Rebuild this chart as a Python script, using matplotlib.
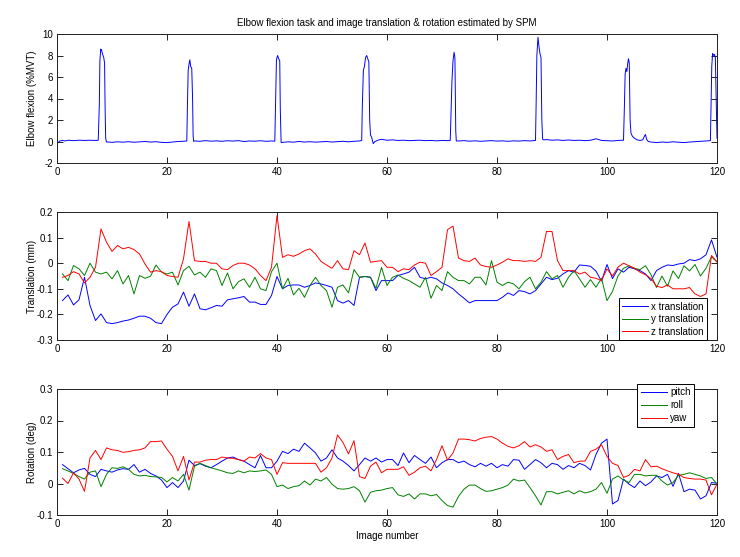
import matplotlib
matplotlib.use("Agg")
import matplotlib.pyplot as plt
from matplotlib.ticker import FuncFormatter

plt.rcParams['font.family'] = ['Liberation Sans', 'DejaVu Sans']
plt.rcParams['axes.unicode_minus'] = False

title = "Elbow flexion task and image translation & rotation estimated by SPM"

# ---- elbow flexion trace (vertices) ----
elbow_x = [0, 0.2, 0.5, 1, 1.5, 2, 3, 4, 5, 6, 7, 7.5,
           7.7, 7.8, 7.95, 8.1, 8.3, 8.5, 8.65, 8.75, 8.85, 9.0,
           9.5, 10, 11, 12, 13, 14, 15, 16, 17, 18, 19, 20, 21, 22, 23, 23.6,
           23.7, 23.85, 24.0, 24.15, 24.3, 24.5, 24.65, 24.75, 24.85,
           25, 26, 27, 28, 29, 30, 31, 32, 33, 34, 35, 36, 37, 38, 39, 39.6,
           39.75, 39.9, 40.1, 40.3, 40.5, 40.6, 40.75,
           41, 42, 43, 44, 45, 46, 47, 48, 49, 50, 51, 52, 53, 54, 55, 55.4,
           55.5, 55.7, 55.9, 56.1, 56.3, 56.5, 56.7, 56.85, 57.0, 57.2, 57.5,
           57.8, 58.5, 59, 60, 61, 62, 63, 64, 65, 66, 67, 68, 69, 70, 71, 71.5,
           71.6, 71.8, 72.0, 72.2, 72.35, 72.5, 72.6,
           73, 74, 75, 76, 77, 78, 79, 80, 81, 82, 83, 84, 85, 86, 87,
           87.1, 87.25, 87.45, 87.6, 87.8, 88.0, 88.15, 88.3,
           88.5, 89, 90, 91, 92, 93, 94, 95, 96, 97, 98, 99, 100, 101, 102, 103,
           103.15, 103.3, 103.45, 103.6, 103.75, 103.9, 104.05, 104.2, 104.35, 104.6,
           105, 105.5, 106, 106.5, 106.8, 107, 107.2, 107.5,
           108, 109, 110, 111, 112, 113, 114, 115, 116, 117, 118, 118.8,
           118.9, 119.05, 119.2, 119.4, 119.55, 119.7, 119.85, 120]
elbow_y = [-0.25, -0.1, 0.05, 0.1, 0.05, 0.12, 0.08, 0.12, 0.1, 0.12, 0.1, 0.12,
           3.5, 7.5, 8.6, 8.5, 8.1, 7.8, 7.3, 3.0, 0.3, -0.05,
           -0.05, -0.08, -0.03, -0.06, -0.02, -0.07, -0.03, 0.0, -0.05, -0.02, -0.08, -0.1, -0.05, 0.0, 0.02, 0.05,
           3.0, 6.6, 7.2, 7.6, 7.0, 6.8, 4.0, 0.5, 0.0,
           0.05, 0.02, 0.08, 0.03, 0.06, 0.02, 0.07, 0.04, 0.08, 0.0, 0.05, 0.03, 0.07, 0.02, 0.05, 0.03,
           4.0, 7.6, 8.0, 7.7, 7.5, 3.0, -0.1,
           -0.08, -0.03, -0.06, 0.0, -0.05, -0.02, -0.06, -0.03, 0.0, -0.05, -0.02, 0.02, -0.03, 0.02, 0.05, 0.1,
           3.0, 6.6, 7.0, 7.8, 8.0, 7.7, 7.4, 2.0, 0.6, 0.4, -0.2,
           0.0, 0.15, 0.2, 0.12, 0.15, 0.1, 0.12, 0.08, 0.1, 0.12, 0.08, 0.1, 0.06, 0.1, 0.08, 0.1,
           2.0, 5.5, 7.5, 8.3, 7.8, 1.0, 0.05,
           0.05, 0.08, 0.03, 0.06, 0.02, 0.05, 0.08, 0.04, 0.06, 0.02, 0.06, 0.04, 0.08, 0.05, 0.1,
           3.0, 8.0, 9.7, 9.0, 8.2, 7.8, 2.0, 0.2,
           0.15, 0.18, 0.12, 0.15, 0.1, 0.14, 0.1, 0.12, 0.08, 0.12, 0.25, 0.1, 0.08, 0.05, 0.1, 0.12,
           3.0, 6.3, 6.8, 6.5, 7.2, 7.7, 7.3, 2.0, 0.8, 0.5,
           0.3, 0.15, 0.1, 0.15, 0.5, 0.65, 0.2, 0.0,
           -0.05, -0.1, -0.05, -0.08, -0.03, -0.06, -0.1, -0.05, -0.02, 0.0, 0.05, 0.08,
           3.0, 7.0, 8.2, 8.0, 8.1, 7.8, 4.0, 0.3]

# ---- image number ----
image = list(range(1, 121))

# ---- translation (mm) ----
x_translation = [-0.146, -0.124, -0.163, -0.143, -0.055, -0.165, -0.224, -0.198, -0.232, -0.236,
                 -0.232, -0.226, -0.222, -0.215, -0.207, -0.207, -0.215, -0.232, -0.236, -0.2,
                 -0.172, -0.159, -0.113, -0.168, -0.12, -0.178, -0.182, -0.174, -0.165, -0.168,
                 -0.143, -0.139, -0.135, -0.13, -0.152, -0.152, -0.161, -0.161, -0.126, -0.052,
                 -0.1, -0.087, -0.085, -0.085, -0.094, -0.087, -0.077, -0.081, -0.087, -0.094,
                 -0.146, -0.156, -0.146, -0.165, -0.055, -0.052, -0.055, -0.107, -0.068, -0.068,
                 -0.068, -0.048, -0.042, -0.035, -0.016, -0.055, -0.061, -0.055, -0.061, -0.077,
                 -0.087, -0.10, -0.12, -0.137, -0.155, -0.146, -0.146, -0.146, -0.146, -0.146,
                 -0.133, -0.116, -0.126, -0.107, -0.111, -0.12, -0.107, -0.081, -0.055, -0.064,
                 -0.059, -0.042, -0.029, -0.035, -0.007, -0.009, -0.012, -0.031, -0.07, -0.005,
                 -0.06, -0.022, -0.035, -0.016, -0.022, -0.029, -0.042, -0.068, -0.029, -0.016,
                 -0.007, -0.009, -0.003, 0.0, 0.014, 0.01, 0.017, 0.033, 0.091, 0.023]
y_translation = [-0.042, -0.068, -0.009, -0.022, -0.048, 0.0, -0.035, -0.042, -0.035, -0.061,
                 -0.029, -0.081, -0.048, -0.12, -0.048, -0.059, -0.051, -0.007, -0.035, -0.042,
                 -0.035, -0.085, -0.029, -0.012, -0.046, -0.035, -0.055, -0.022, -0.029, -0.087,
                 -0.038, -0.10, -0.072, -0.061, -0.094, -0.055, -0.10, -0.107, -0.033, 0.0,
                 -0.10, -0.059, -0.124, -0.098, -0.133, -0.087, -0.055, -0.087, -0.107, -0.172,
                 -0.094, -0.085, -0.116, -0.025, -0.055, -0.052, -0.055, -0.098, -0.016, -0.087,
                 -0.055, -0.046, -0.059, -0.068, -0.081, -0.094, -0.055, -0.137, -0.087, -0.107,
                 -0.033, -0.055, -0.068, -0.068, -0.081, -0.055, -0.055, -0.085, 0.01, -0.074,
                 -0.087, -0.074, -0.081, -0.10, -0.072, -0.055, -0.10, -0.074, -0.033, -0.061,
                 -0.048, -0.094, -0.055, -0.029, -0.061, -0.094, -0.064, -0.094, -0.059, -0.146,
                 -0.11, -0.05, -0.02, -0.01, -0.02, -0.025, -0.01, -0.045, -0.095, -0.05,
                 -0.09, -0.03, -0.06, -0.01, -0.03, -0.005, -0.05, -0.02, 0.025, 0.005]
z_translation = [-0.055, -0.048, -0.033, -0.042, -0.077, -0.055, -0.016, 0.134, 0.082, 0.046,
                 0.069, 0.056, 0.062, 0.053, 0.036, -0.003, -0.035, -0.029, -0.033, -0.048,
                 -0.052, -0.055, 0.017, 0.163, 0.01, 0.007, 0.007, 0.0, 0.0, -0.022,
                 -0.025, -0.009, 0.0, 0.0, -0.007, -0.022, -0.048, -0.068, -0.016, 0.186,
                 0.023, 0.033, 0.027, 0.036, 0.049, 0.056, 0.036, 0.007, -0.007, -0.02,
                 0.01, -0.022, -0.025, 0.049, 0.033, 0.079, 0.004, 0.007, 0.01, -0.016,
                 -0.016, -0.033, -0.022, -0.025, -0.007, 0.004, 0.0, -0.048, -0.033, -0.016,
                 0.131, 0.145, 0.02, 0.01, 0.007, 0.02, -0.007, -0.013, -0.016, -0.007,
                 0.004, 0.017, 0.01, 0.01, 0.007, 0.01, 0.007, 0.023, 0.124, 0.124,
                 0.01, -0.029, -0.029, -0.029, -0.042, -0.035, -0.055, -0.059, -0.068, -0.022,
                 -0.05, -0.015, 0.0, -0.01, -0.02, -0.035, -0.045, -0.06, -0.09, -0.095,
                 -0.085, -0.1, -0.1, -0.1, -0.095, -0.12, -0.13, -0.12, 0.03, 0.005]

# ---- rotation (deg) ----
pitch = [0.060, 0.047, 0.034, 0.043, 0.048, 0.029, 0.022, 0.045, 0.040, 0.036,
         0.043, 0.047, 0.045, 0.060, 0.036, 0.045, 0.032, 0.024, 0.011, -0.013,
         0.003, -0.013, 0.008, 0.074, 0.057, 0.063, 0.055, 0.050, 0.060, 0.071,
         0.081, 0.084, 0.076, 0.071, 0.060, 0.050, 0.089, 0.050, 0.050, 0.071,
         0.102, 0.095, 0.109, 0.102, 0.128, 0.113, 0.097, 0.071, 0.081, 0.107,
         0.081, 0.071, 0.057, 0.040, 0.060, 0.081, 0.071, 0.081, 0.068, 0.076,
         0.076, 0.057, 0.097, 0.066, 0.089, 0.076, 0.064, 0.084, 0.050, 0.066,
         0.076, 0.076, 0.066, 0.071, 0.060, 0.053, 0.064, 0.055, 0.064, 0.050,
         0.060, 0.055, 0.076, 0.074, 0.045, 0.060, 0.076, 0.066, 0.050, 0.064,
         0.060, 0.045, 0.057, 0.050, 0.064, 0.057, 0.043, 0.092, 0.128, 0.141,
         -0.065, -0.054, 0.014, -0.002, -0.013, 0.008, -0.007, 0.005, 0.024, 0.019,
         0.029, -0.009, 0.032, -0.026, -0.018, -0.021, -0.049, -0.039, 0.003, 0.001]
roll = [0.047, 0.040, 0.032, 0.022, 0.014, 0.036, 0.040, -0.010, 0.029, 0.050,
        0.048, 0.053, 0.045, 0.029, 0.024, 0.026, 0.022, 0.021, 0.019, 0.005,
        0.019, 0.008, 0.029, -0.021, 0.055, 0.064, 0.057, 0.050, 0.045, 0.040,
        0.034, 0.032, 0.040, 0.034, 0.040, 0.038, 0.040, 0.043, 0.029, -0.010,
        -0.005, -0.016, -0.010, -0.007, 0.008, -0.005, 0.014, 0.008, 0.019, -0.002,
        -0.016, -0.018, -0.016, -0.010, -0.023, -0.059, -0.028, -0.023, -0.021, -0.016,
        -0.013, -0.036, -0.041, -0.033, -0.049, -0.033, -0.033, -0.039, -0.035, -0.054,
        -0.070, -0.075, -0.041, -0.018, -0.005, -0.005, -0.016, -0.025, -0.023, -0.018,
        -0.013, -0.005, 0.014, 0.008, 0.011, -0.013, -0.039, -0.068, -0.026, -0.026,
        -0.033, -0.028, -0.023, -0.033, -0.023, -0.030, -0.026, -0.018, 0.003, -0.031,
        0.014, 0.024, 0.011, 0.003, 0.029, 0.029, 0.024, 0.026, 0.026, 0.008,
        -0.005, 0.003, 0.026, 0.029, 0.034, 0.029, 0.024, 0.016, 0.019, -0.002]
yaw = [0.017, 0.0, 0.034, 0.014, -0.025, 0.081, 0.105, 0.076, 0.113, 0.107,
       0.105, 0.099, 0.101, 0.105, 0.107, 0.113, 0.133, 0.133, 0.135, 0.109,
       0.086, 0.040, 0.086, 0.011, 0.068, 0.068, 0.074, 0.076, 0.076, 0.084,
       0.081, 0.080, 0.076, 0.071, 0.084, 0.081, 0.095, 0.081, 0.076, 0.029,
       0.066, 0.064, 0.064, 0.064, 0.064, 0.064, 0.064, 0.036, 0.050, 0.081,
       0.154, 0.130, 0.094, 0.136, 0.022, 0.016, 0.055, 0.068, 0.034, 0.045,
       0.045, 0.045, 0.053, 0.026, 0.036, 0.050, 0.055, 0.040, 0.076, 0.120,
       0.074, 0.097, 0.141, 0.141, 0.139, 0.135, 0.143, 0.147, 0.149, 0.141,
       0.128, 0.118, 0.113, 0.120, 0.133, 0.116, 0.123, 0.116, 0.102, 0.107,
       0.076, 0.086, 0.092, 0.066, 0.071, 0.071, 0.102, 0.109, 0.123, 0.086,
       0.064, 0.057, 0.019, 0.026, 0.045, 0.040, 0.076, 0.053, 0.055, 0.047,
       0.040, 0.034, 0.029, 0.019, 0.016, 0.014, 0.014, 0.011, -0.036, -0.002]

BLUE, GREEN, RED = '#0000ff', '#008000', '#ff0000'
FS = 7
LW = 0.7

fig = plt.figure(figsize=(7.40, 5.57), dpi=100)
L, W = 57 / 740, 660 / 740
ax1 = fig.add_axes([L, 1 - 163 / 557, W, 129 / 557])
ax2 = fig.add_axes([L, 1 - 340 / 557, W, 128 / 557])
ax3 = fig.add_axes([L, 1 - 515 / 557, W, 126 / 557])

fmt = FuncFormatter(lambda v, p: ('%g' % round(v, 6)))

def style(ax):
    ax.set_xlim(0, 120)
    ax.set_xticks(range(0, 121, 20))
    ax.tick_params(direction='in', top=True, right=True, length=4, width=0.6,
                   labelsize=FS, pad=3, colors='black')
    for s in ax.spines.values():
        s.set_linewidth(0.7)
        s.set_color('#222222')
    ax.yaxis.set_major_formatter(fmt)

ax1.plot(elbow_x, elbow_y, color=BLUE, lw=LW)
ax1.set_ylim(-2, 10)
ax1.set_yticks(range(-2, 11, 2))
ax1.set_ylabel('Elbow flexion (%MVT)', fontsize=FS)
ax1.set_title(title, fontsize=FS, pad=6)
style(ax1)

ax2.plot(image, x_translation, color=BLUE, lw=LW, label='x translation')
ax2.plot(image, y_translation, color=GREEN, lw=LW, label='y translation')
ax2.plot(image, z_translation, color=RED, lw=LW, label='z translation')
ax2.set_ylim(-0.3, 0.2)
ax2.set_yticks([-0.3, -0.2, -0.1, 0, 0.1, 0.2])
ax2.set_ylabel('Translation (mm)', fontsize=FS)
style(ax2)
leg2 = ax2.legend(loc='lower right', bbox_to_anchor=(0.985, 0.0), fontsize=FS,
                  fancybox=False, edgecolor='black', framealpha=1,
                  handlelength=2.7, handletextpad=0.3, labelspacing=0.25,
                  borderpad=0.35, borderaxespad=0.0)
leg2.get_frame().set_linewidth(0.7)

ax3.plot(image, pitch, color=BLUE, lw=LW, label='pitch')
ax3.plot(image, roll, color=GREEN, lw=LW, label='roll')
ax3.plot(image, yaw, color=RED, lw=LW, label='yaw')
ax3.set_ylim(-0.1, 0.3)
ax3.set_yticks([-0.1, 0, 0.1, 0.2, 0.3])
ax3.set_ylabel('Rotation (deg)', fontsize=FS)
ax3.set_xlabel('Image number', fontsize=FS, labelpad=1)
style(ax3)
leg3 = ax3.legend(loc='upper right', bbox_to_anchor=(0.965, 1.04), fontsize=FS,
                  fancybox=False, edgecolor='black', framealpha=1,
                  handlelength=2.7, handletextpad=0.3, labelspacing=0.3,
                  borderpad=0.35, borderaxespad=0.0)
leg3.get_frame().set_linewidth(0.7)

for ax in (ax1, ax2, ax3):
    ax.yaxis.set_label_coords(-0.03, 0.5)

fig.savefig('out.png', dpi=100)
